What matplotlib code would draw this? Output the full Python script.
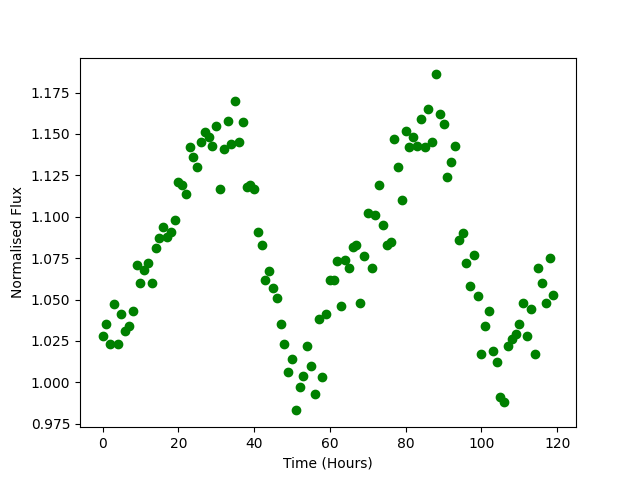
import matplotlib
matplotlib.use("Agg")
import matplotlib.pyplot as plt
import numpy as np

hours = list(range(120))
flux = [
    1.028, 1.035, 1.023, 1.047, 1.023, 1.041, 1.031, 1.034, 1.043, 1.071,
    1.060, 1.068, 1.072, 1.060, 1.081, 1.087, 1.094, 1.088, 1.091, 1.098,
    1.121, 1.119, 1.114, 1.142, 1.136, 1.130, 1.145, 1.151, 1.148, 1.143,
    1.155, 1.117, 1.141, 1.158, 1.144, 1.170, 1.145, 1.157, 1.118, 1.119,
    1.117, 1.091, 1.083, 1.062, 1.067, 1.057, 1.051, 1.035, 1.023, 1.006,
    1.014, 0.983, 0.997, 1.004, 1.022, 1.010, 0.993, 1.038, 1.003, 1.041,
    1.062, 1.062, 1.073, 1.046, 1.074, 1.069, 1.082, 1.083, 1.048, 1.076,
    1.102, 1.069, 1.101, 1.119, 1.095, 1.083, 1.085, 1.147, 1.130, 1.110,
    1.152, 1.142, 1.148, 1.143, 1.159, 1.142, 1.165, 1.145, 1.186, 1.162,
    1.156, 1.124, 1.133, 1.143, 1.086, 1.090, 1.072, 1.058, 1.077, 1.052,
    1.017, 1.034, 1.043, 1.019, 1.012, 0.991, 0.988, 1.022, 1.026, 1.029,
    1.035, 1.048, 1.028, 1.044, 1.017, 1.069, 1.060, 1.048, 1.075, 1.053,
]

fig, ax = plt.subplots(figsize=(6.4, 4.8), dpi=100)
ax.plot(hours, flux, 'o', color='green', linestyle='none')
ax.set_xlabel("Time (Hours)")
ax.set_ylabel("Normalised Flux")
fig.savefig("out.png")
